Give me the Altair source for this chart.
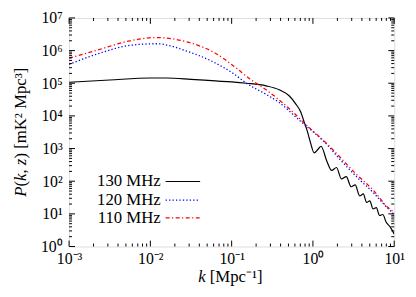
import altair as alt
import pandas as pd

# ---- data (log10 k, log10 P) ----
k130 = [-3.0, -2.5, -2.0, -1.8, -1.5, -1.2, -1.0, -0.818, -0.576, -0.415, -0.29, -0.212, -0.15, -0.11, -0.07, -0.03,
        0.015, 0.06, 0.10, 0.17, 0.23, 0.29, 0.35, 0.41, 0.47, 0.52, 0.575, 0.62, 0.66, 0.70, 0.74, 0.78, 0.82,
        0.86, 0.90, 0.95, 1.0]
p130 = [5.03, 5.10, 5.16, 5.16, 5.12, 5.07, 5.04, 5.00, 4.92, 4.80, 4.61, 4.37, 4.12, 3.83, 3.54, 3.18,
        2.87, 2.97, 3.07, 2.62, 2.33, 2.42, 2.07, 2.14, 1.83, 1.89, 1.55, 1.61, 1.35, 1.40, 1.15, 1.19, 0.95,
        0.98, 0.75, 0.60, 0.38]

k120 = [-3.0, -2.66, -2.25, -1.93, -1.525, -1.2, -0.98, -0.818, -0.576, -0.415, -0.15, -0.01, 0.15, 0.35, 0.555,
        0.758, 0.86, 1.0]
p120 = [5.58, 5.89, 6.16, 6.21, 5.96, 5.62, 5.30, 5.00, 4.66, 4.41, 3.83, 3.54, 3.18, 2.62, 2.09,
        1.61, 1.33, 0.98]

k110 = [-3.0, -2.66, -2.25, -1.93, -1.525, -1.2, -0.95, -0.78, -0.576, -0.29, -0.09, 0.15, 0.27, 0.515, 0.758,
        0.92, 1.0]
p110 = [5.77, 6.01, 6.30, 6.40, 6.25, 5.92, 5.48, 5.14, 4.80, 4.22, 3.74, 3.20, 2.90, 2.26, 1.68,
        1.20, 1.05]

series = ["130 MHz", "120 MHz", "110 MHz"]
colors = ["#000000", "#0000ff", "#ff0000"]

x_major = [1e-3, 1e-2, 1e-1, 1e0, 1e1]
y_major = [1e0, 1e1, 1e2, 1e3, 1e4, 1e5, 1e6, 1e7]
x_sup = ["⁻³", "⁻²", "⁻¹", "⁰", "¹"]
y_sup = ["⁰", "¹", "²", "³", "⁴", "⁵", "⁶", "⁷"]

# axis title pieces: (text, italic?, advance in em after the piece incl. following space)
x_title_parts = [("k", True, 0.694), ("[Mpc⁻¹]", False, 0.0)]
y_title_parts = [("P", True, 0.611), ("(", False, 0.333), ("k", True, 0.444), (",", False, 0.5),
                 ("z", True, 0.389), (") [mK² Mpc³]", False, 0.0)]

W, H = 330, 232
FONT = "Liberation Serif"
FS = 17
LFS = 16


def df_of(ks, ps, name):
    return pd.DataFrame({"k": [10 ** v for v in ks], "P": [10 ** v for v in ps], "s": name})


xs = alt.Scale(type="log", domain=[1e-3, 10], nice=False)
ys = alt.Scale(type="log", domain=[1, 1e7], nice=False)

x_label_expr = "'10' + " + str(x_sup).replace('"', "'") + "[round(log(datum.value)/LN10)+3]"
y_label_expr = "'10' + " + str(y_sup).replace('"', "'") + "[round(log(datum.value)/LN10)]"

xaxis = alt.Axis(values=x_major, labelExpr=x_label_expr, ticks=False, domain=False, grid=False,
                 title="", labelFont=FONT, labelFontSize=LFS, labelPadding=4, labelColor="black",
                 labelFlush=False)
yaxis = alt.Axis(values=y_major, labelExpr=y_label_expr, ticks=False, domain=False, grid=False,
                 title="", labelFont=FONT, labelFontSize=LFS, labelPadding=7, labelColor="black",
                 labelFlush=False)

styles = [
    dict(strokeWidth=1.2),
    dict(strokeWidth=1.3, strokeDash=[1.3, 2.2]),
    dict(strokeWidth=1.3, strokeDash=[4, 2.5, 1.2, 2.5]),
]
datas = [df_of(k130, p130, series[0]), df_of(k120, p120, series[1]), df_of(k110, p110, series[2])]

layers = []
for d, c, st in zip(datas, colors, styles):
    layers.append(
        alt.Chart(d).mark_line(color=c, interpolate="monotone", clip=True, **st).encode(
            x=alt.X("k:Q", scale=xs, axis=xaxis),
            y=alt.Y("P:Q", scale=ys, axis=yaxis),
        )
    )

# ---- inward ticks on all four sides ----
xt = []
for e in range(-3, 1):
    for m in range(1, 10):
        xt.append({"v": m * 10.0 ** e, "len": 6 if m == 1 else 3})
xt.append({"v": 10.0, "len": 6})
yt = []
for e in range(0, 7):
    for m in range(1, 10):
        yt.append({"v": m * 10.0 ** e, "len": 6 if m == 1 else 3})
yt.append({"v": 1e7, "len": 6})
xtd = pd.DataFrame(xt)
ytd = pd.DataFrame(yt)

tick_layers = []
for L in [6, 3]:
    sub = xtd[xtd["len"] == L]
    tick_layers.append(alt.Chart(sub).mark_rule(color="black", strokeWidth=1).encode(
        x=alt.X("v:Q", scale=xs, axis=xaxis), y=alt.value(H), y2=alt.value(H - L)))
    tick_layers.append(alt.Chart(sub).mark_rule(color="black", strokeWidth=1).encode(
        x=alt.X("v:Q", scale=xs, axis=xaxis), y=alt.value(0), y2=alt.value(L)))
    sub = ytd[ytd["len"] == L]
    tick_layers.append(alt.Chart(sub).mark_rule(color="black", strokeWidth=1).encode(
        y=alt.Y("v:Q", scale=ys, axis=yaxis), x=alt.value(0), x2=alt.value(L)))
    tick_layers.append(alt.Chart(sub).mark_rule(color="black", strokeWidth=1).encode(
        y=alt.Y("v:Q", scale=ys, axis=yaxis), x=alt.value(W), x2=alt.value(W - L)))

# ---- axis titles with italic math letters ----
title_layers = []
xpos = 131.0
for txt, it, adv in x_title_parts:
    td = pd.DataFrame({"t": [txt]})
    title_layers.append(alt.Chart(td).mark_text(font=FONT, fontSize=FS, align="left", baseline="middle",
                                                fontStyle="italic" if it else "normal", color="black").encode(
        text="t:N", x=alt.value(xpos), y=alt.value(H + 31)))
    xpos += adv * FS

ypos = 116 + 131 / 2
for txt, it, adv in y_title_parts:
    td = pd.DataFrame({"t": [txt]})
    title_layers.append(alt.Chart(td).mark_text(font=FONT, fontSize=FS, align="left", baseline="middle",
                                                angle=270, fontStyle="italic" if it else "normal",
                                                color="black").encode(
        text="t:N", x=alt.value(-49), y=alt.value(ypos)))
    ypos -= adv * FS

# ---- legend (labels left, samples right) ----
leg_y = [166, 185, 203]
leg_layers = []
for name, c, st, ly in zip(series, colors, styles, leg_y):
    ld = pd.DataFrame({"s": [name]})
    leg_layers.append(alt.Chart(ld).mark_text(font=FONT, fontSize=FS, align="right", baseline="middle",
                                              color="black").encode(
        text="s:N", x=alt.value(93), y=alt.value(ly)))
    leg_layers.append(alt.Chart(ld).mark_rule(color=c, **st).encode(
        x=alt.value(98), x2=alt.value(133), y=alt.value(ly)))

chart = alt.layer(*layers, *tick_layers, *title_layers, *leg_layers).properties(
    width=W, height=H,
    autosize=alt.AutoSizeParams(type="none"),
    padding={"left": 62, "top": 8, "right": 14, "bottom": 39},
).configure_view(stroke="black", strokeWidth=1.2).configure(background="white")

chart.save("out.html", embed_options={"renderer": "svg", "actions": False})
